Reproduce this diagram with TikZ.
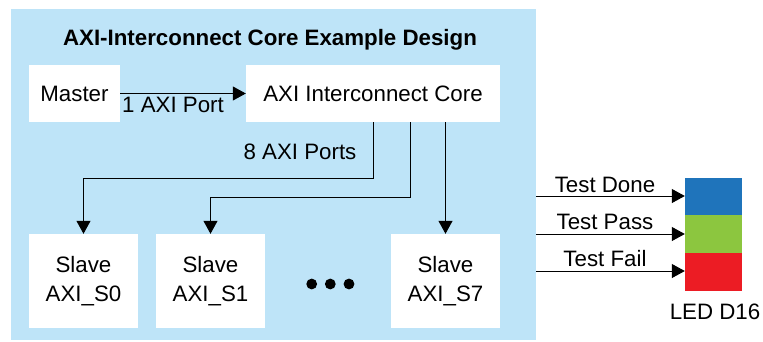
\documentclass[tikz,border=0pt]{standalone}
\usepackage{fontspec}
\setmainfont{Liberation Sans}
\usetikzlibrary{arrows.meta}
\definecolor{bgblue}{HTML}{BEE4F8}
\definecolor{ledblue}{HTML}{1F74BB}
\definecolor{ledgreen}{HTML}{8CC63F}
\definecolor{ledred}{HTML}{EC1C24}
\tikzset{
  lbl/.style={font=\fontsize{22.3}{29}\selectfont, inner sep=0pt},
  box/.style={fill=white, inner sep=0pt, align=center, font=\fontsize{22.3}{29}\selectfont},
  arr/.style={draw=black, line width=1pt, -{Triangle[length=13pt,width=14pt]}},
  led/.style={inner sep=0pt, minimum width=57pt}
}
\begin{document}
\begin{tikzpicture}[x=1pt,y=-1pt]
\useasboundingbox (0,0) rectangle (763,341);
\node[fill=bgblue, inner sep=0pt, minimum width=525pt, minimum height=331pt] (bg) at (273.5,174.5) {};
\node[lbl, font=\fontsize{22.3}{29}\selectfont\bfseries] (title) at (270,40) {AXI-Interconnect Core Example Design};
\node[box, minimum width=91pt, minimum height=57pt] (master) at (74.5,93.5) {Master};
\node[box, minimum width=254pt, minimum height=57pt] (core) at (373,93.5) {AXI Interconnect Core};
\node[box, minimum width=109pt, minimum height=94pt] (s0) at (83.5,281) {Slave\\AXI\_S0};
\node[box, minimum width=109pt, minimum height=94pt] (s1) at (210.5,281) {Slave\\AXI\_S1};
\node[box, minimum width=109pt, minimum height=94pt] (s7) at (445.5,281) {Slave\\AXI\_S7};
\fill (311.7,284) circle (5.4pt) (330.3,284) circle (5.4pt) (349,284) circle (5.4pt);
\draw[arr] (master.east) -- (core.west);
\node[lbl] (p1) at (173,105) {1 AXI Port};
\node[lbl] (p8) at (300,152) {8 AXI Ports};
\coordinate (c2) at (410,122);
\draw[arr] (core.south) -- ++(0,56) -| (s0.north);
\draw[arr] (c2) -- ++(0,75) -| (s1.north);
\draw[arr] (core.south -| s7.north) -- (s7.north);
\node[led, fill=ledblue, minimum height=37pt] (l1) at (713.5,196.5) {};
\node[led, fill=ledgreen, minimum height=38pt] (l2) at (713.5,234) {};
\node[led, fill=ledred, minimum height=38pt] (l3) at (713.5,272) {};
\coordinate (a1) at (536,196);
\coordinate (a2) at (536,234);
\coordinate (a3) at (536,271);
\draw[arr] (a1) -- (a1 -| l1.west);
\draw[arr] (a2) -- (a2 -| l2.west);
\draw[arr] (a3) -- (a3 -| l3.west);
\node[lbl] (t1) at (605,185) {Test Done};
\node[lbl] (t2) at (605,222) {Test Pass};
\node[lbl] (t3) at (605,259) {Test Fail};
\node[lbl] (ledl) at (715,312) {LED D16};
\end{tikzpicture}
\end{document}
